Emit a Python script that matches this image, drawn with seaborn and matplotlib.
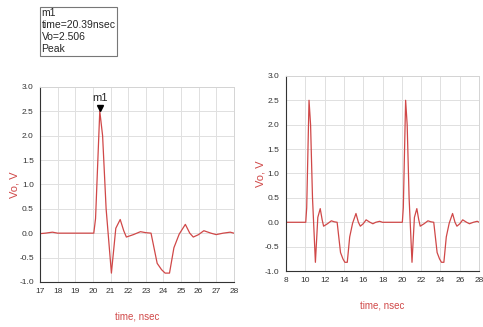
import pandas as pd
import matplotlib.pyplot as plt
import seaborn as sns

# waveform (single pulse, 17-28 ns)
t_left = [17.0, 17.3, 17.7, 18.0, 19.0, 20.05, 20.15, 20.39, 20.55, 20.75, 21.05, 21.3, 21.55,
          21.75, 21.9, 22.3, 22.7, 23.0, 23.3, 23.65, 23.9, 24.1, 24.35, 24.6, 24.9, 25.25,
          25.5, 25.7, 26.0, 26.3, 26.7, 27.0, 27.4, 27.8, 28.0]
vo_left = [-0.01, 0.0, 0.02, 0.0, 0.0, 0.0, 0.3, 2.506, 2.0, 0.5, -0.82, 0.1, 0.28,
           0.05, -0.08, -0.03, 0.03, 0.01, 0.0, -0.62, -0.75, -0.82, -0.82, -0.3, -0.02, 0.18,
           0.0, -0.08, -0.03, 0.05, 0.0, -0.03, 0.0, 0.02, 0.0]

# waveform (two pulses, 8-28 ns)
t_right = [8.0, 10.05, 10.15, 10.39, 10.55, 10.75, 11.05, 11.3, 11.55, 11.75, 11.9, 12.3, 12.7,
           13.0, 13.3, 13.65, 13.9, 14.1, 14.35, 14.6, 14.9, 15.25, 15.5, 15.7, 16.0, 16.3,
           16.7, 17.0, 17.3, 17.7, 18.0, 19.0, 20.05, 20.15, 20.39, 20.55, 20.75, 21.05, 21.3,
           21.55, 21.75, 21.9, 22.3, 22.7, 23.0, 23.3, 23.65, 23.9, 24.1, 24.35, 24.6, 24.9,
           25.25, 25.5, 25.7, 26.0, 26.3, 26.7, 27.0, 27.4, 27.8, 28.0]
vo_right = [0.0, 0.0, 0.3, 2.5, 2.0, 0.5, -0.82, 0.1, 0.28, 0.05, -0.08, -0.03, 0.03,
            0.01, 0.0, -0.62, -0.75, -0.82, -0.82, -0.3, -0.02, 0.18, 0.0, -0.08, -0.03, 0.05,
            0.0, -0.03, 0.0, 0.02, 0.0, 0.0, 0.0, 0.3, 2.5, 2.0, 0.5, -0.82, 0.1,
            0.28, 0.05, -0.08, -0.03, 0.03, 0.01, 0.0, -0.62, -0.75, -0.82, -0.82, -0.3, -0.02,
            0.18, 0.0, -0.08, -0.03, 0.05, 0.0, -0.03, 0.0, 0.02, 0.0]

y_ticks = [-1.0, -0.5, 0.0, 0.5, 1.0, 1.5, 2.0, 2.5, 3.0]
left_xticks = list(range(17, 29))
right_xticks = list(range(8, 29, 2))

marker_t = 20.39
marker_v = 2.506

sns.set_style("white")
plt.rcParams['font.family'] = ['Liberation Sans', 'DejaVu Sans']

red = "#d04848"
fig = plt.figure(figsize=(4.83, 3.27), dpi=100)
ax1 = fig.add_axes([0.083, 0.138, 0.401, 0.596])
ax2 = fig.add_axes([0.592, 0.171, 0.400, 0.597])


def style_axes(ax, xticks, minor):
    ax.set_ylim(-1.0, 3.0)
    ax.set_xlim(xticks[0], xticks[-1])
    ax.set_yticks(y_ticks)
    ax.set_yticklabels([f"{v:.1f}" for v in y_ticks])
    ax.set_xticks(xticks)
    ax.set_xticks(minor, minor=True)
    ax.grid(True, color="#e0e0e0", linewidth=0.7)
    ax.tick_params(axis="both", which="major", labelsize=6, length=3, width=0.6,
                   direction="out", pad=1.5, colors="#333333")
    ax.tick_params(axis="x", which="minor", length=2, width=0.6, direction="out")
    for s in ["top", "right"]:
        ax.spines[s].set_color("#d4d4d4")
        ax.spines[s].set_linewidth(0.7)
    for s in ["left", "bottom"]:
        ax.spines[s].set_color("#333333")
        ax.spines[s].set_linewidth(0.8)
    ax.set_xlabel("time, nsec", color=red, fontsize=7, labelpad=12)
    ax.set_ylabel("Vo, V", color=red, fontsize=8, labelpad=0)


df_left = pd.DataFrame({"time": t_left, "vo": vo_left})
df_right = pd.DataFrame({"time": t_right, "vo": vo_right})

sns.lineplot(data=df_left, x="time", y="vo", ax=ax1, color=red, linewidth=0.9)
sns.lineplot(data=df_right, x="time", y="vo", ax=ax2, color=red, linewidth=0.9)

style_axes(ax1, left_xticks, [x + 0.5 for x in left_xticks[:-1]])
style_axes(ax2, right_xticks, [x + 1 for x in right_xticks[:-1]])

# marker m1
ax1.plot([marker_t], [marker_v + 0.07], marker="v", color="black", markersize=4)
ax1.text(marker_t, marker_v + 0.17, "m1", ha="center", va="bottom", fontsize=8)

fig.text(0.086, 0.975, f"m1\ntime={marker_t}nsec\nVo={marker_v}\nPeak",
         ha="left", va="top", fontsize=7.5, linespacing=1.25,
         bbox=dict(boxstyle="square,pad=0.15", facecolor="white", edgecolor="#777777", linewidth=0.8))

plt.savefig("out.png", dpi=100)
